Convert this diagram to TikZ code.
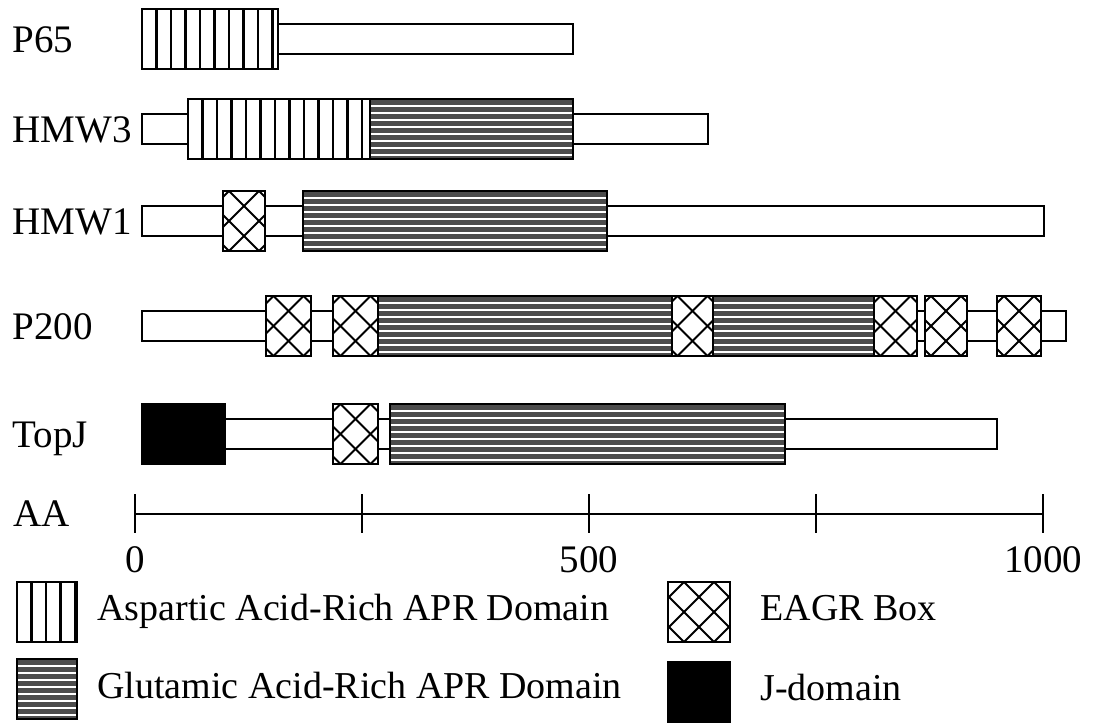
\documentclass[tikz,border=0pt]{standalone}
\usepackage{fontspec}
\setmainfont{Liberation Serif}
\tikzset{
  outl/.style={draw=black, line width=1.4pt},
  thinln/.style={line width=0.95pt},
  rowlbl/.style={anchor=base west, inner sep=0pt, font=\fontsize{19.5}{22}\selectfont},
  ticklbl/.style={anchor=base, inner sep=0pt, font=\fontsize{19.5}{22}\selectfont},
  leglbl/.style={anchor=base west, inner sep=0pt, font=\fontsize{19}{22}\selectfont},
}
% thin backbone: x1, x2, centre
\newcommand\thinbar[3]{\draw[outl, fill=white] (#1,#3-15) rectangle (#2,#3+15);}
% aspartic (vertical stripes)
\newcommand\vdom[3]{%
  \fill[white] (#1,#3-30) rectangle (#2,#3+30);
  \begin{scope}
    \clip (#1,#3-30) rectangle (#2,#3+30);
    \foreach \k in {1,...,40} {\draw[line width=1.15pt] ({#1+14.5*\k},#3-31) -- ++(0,62);}
  \end{scope}
  \draw[outl] (#1,#3-30) rectangle (#2,#3+30);}
% glutamic (horizontal stripes)
\newcommand\hdom[3]{%
  \fill[black!70] (#1,#3-30) rectangle (#2,#3+30);
  \begin{scope}
    \clip (#1,#3-30) rectangle (#2,#3+30);
    \foreach \k in {1,...,8} {\draw[white, line width=0.8pt] (#1-1,{#3-30+7*\k}) -- (#2+1,{#3-30+7*\k});}
  \end{scope}
  \draw[outl] (#1,#3-30) rectangle (#2,#3+30);}
% EAGR box (cross-hatch)
\newcommand\edom[3]{%
  \fill[white] (#1,#3-30) rectangle (#2,#3+30);
  \begin{scope}
    \clip (#1,#3-30) rectangle (#2,#3+30);
    \pgfmathsetmacro\ecx{(#1+#2)/2}
    \foreach \k in {-3,...,3} {
      \draw[thinln] (\ecx-45,{#3-15+30*\k-45}) -- (\ecx+45,{#3-15+30*\k+45});
      \draw[thinln] (\ecx-45,{#3-15+30*\k+45}) -- (\ecx+45,{#3-15+30*\k-45});
    }
  \end{scope}
  \draw[outl] (#1,#3-30) rectangle (#2,#3+30);}
% J-domain
\newcommand\jdom[3]{\draw[outl, fill=black] (#1,#3-30) rectangle (#2,#3+30);}
\begin{document}
\begin{tikzpicture}[x=0.5pt,y=-0.5pt]
\useasboundingbox (0,0) rectangle (1093,724);
% ---- P65
\thinbar{142}{573}{39}
\vdom{142}{278}{39}
\node[rowlbl] (lP65) at (12,52) {P65};
% ---- HMW3
\thinbar{142}{708}{129}
\vdom{188}{370}{129}
\hdom{370}{573}{129}
\node[rowlbl] (lHMW3) at (12,142) {HMW3};
% ---- HMW1
\thinbar{142}{1044}{221}
\edom{223}{265}{221}
\hdom{303}{607}{221}
\node[rowlbl] (lHMW1) at (12,234) {HMW1};
% ---- P200
\thinbar{142}{1066}{326}
\edom{266}{311}{326}
\edom{333}{378}{326}
\hdom{378}{672}{326}
\edom{672}{713}{326}
\hdom{713}{874}{326}
\edom{874}{917}{326}
\edom{925}{967}{326}
\edom{997}{1041}{326}
\node[rowlbl] (lP200) at (12,339) {P200};
% ---- TopJ
\thinbar{142}{997}{434}
\jdom{142}{225}{434}
\edom{333}{378}{434}
\hdom{390}{785}{434}
\node[rowlbl] (lTopJ) at (12,447) {TopJ};
% ---- axis
\node[rowlbl] (lAA) at (13,526) {AA};
\coordinate (a0) at (135,514);
\coordinate (a1000) at (1043,514);
\draw[line width=1.4pt] (a0) -- (a1000);
\foreach \t/\xx in {0/135,250/362,500/589,750/816,1000/1043}
  \draw[line width=1.4pt] (\xx,494) -- (\xx,533);
\node[ticklbl] (t0) at (135,572) {0};
\node[ticklbl] (t500) at (589,572) {500};
\node[ticklbl] (t1000) at (1043,572) {1000};
% ---- legend
\vdom{17}{77}{612}
\node[leglbl] (legA) at (97,620) {Aspartic Acid-Rich APR Domain};
\hdom{17}{77}{689}
\node[leglbl] (legG) at (97,698) {Glutamic Acid-Rich APR Domain};
\edom{668}{730}{612}
\node[leglbl] (legE) at (760,620) {EAGR Box};
\jdom{668}{730}{692}
\node[leglbl] (legJ) at (760,700) {J-domain};
\end{tikzpicture}
\end{document}
